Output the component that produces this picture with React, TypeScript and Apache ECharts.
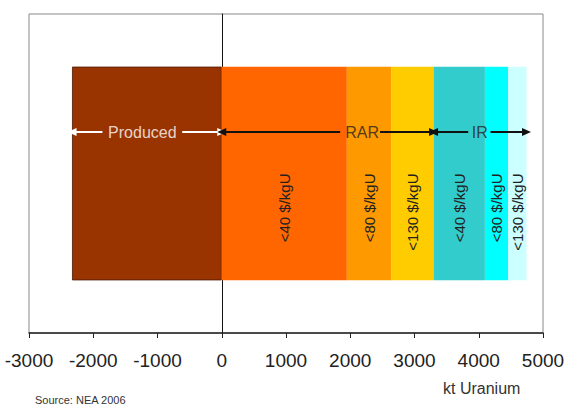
import { useEffect, useRef } from 'react';
import * as echarts from 'echarts';

const FONT = '"Liberation Sans", Arial, Helvetica, sans-serif';

// resource tiers, kt Uranium (NEA 2006)
const category = ['Uranium'];
const producedValue = -2330;
const tierLabels = ['<40 $/kgU', '<80 $/kgU', '<130 $/kgU', '<40 $/kgU', '<80 $/kgU', '<130 $/kgU'];
const tierValues = [1947, 696, 654, 799, 362, 285];
const tierColors = ['#ff6600', '#ff9900', '#ffcc00', '#33cccc', '#00ffff', '#ccffff'];

// range arrows: [start, gapStart, gapEnd, end, labelAt]
const producedArrow = [-2330, -1857, -615, 0, -1236];
const rarArrow = [0, 1843, 2464, 3297, 2186];
const irArrow = [3297, 3836, 4183, 4743, 4017];
const arrowLevel = 63;

const xMin = -3000;
const xMax = 5000;
const xStep = 1000;

const arrowLines = (a: number[]) => [
    [
        { coord: [a[0], arrowLevel], symbol: 'triangle' },
        { coord: [a[1], arrowLevel], symbol: 'none' }
    ],
    [
        { coord: [a[2], arrowLevel], symbol: 'none' },
        { coord: [a[3], arrowLevel], symbol: 'triangle' }
    ]
];

const App = () => {
    const chartRef = useRef<HTMLDivElement | null>(null);

    useEffect(() => {
        document.body.style.margin = '0';
        if (!chartRef.current) return;
        const myChart = echarts.init(chartRef.current, undefined, { renderer: 'svg' });

        const tierSeries = tierValues.map((v, i) => ({
            type: 'bar',
            stack: 'total',
            barWidth: '67%',
            data: [v],
            itemStyle: { color: tierColors[i] },
            label: {
                show: true,
                position: 'inside',
                rotate: 90,
                align: 'right',
                verticalAlign: 'middle',
                formatter: tierLabels[i],
                color: '#222',
                fontSize: 15,
                fontFamily: FONT
            },
            silent: true
        }));

        const option = {
            animation: false,
            grid: {
                left: 29,
                right: 27,
                top: 14,
                bottom: 75,
                show: true,
                borderColor: '#888',
                borderWidth: 1,
                outerBoundsMode: 'none'
            },
            title: [
                {
                    text: 'kt Uranium',
                    left: 443,
                    top: 380,
                    padding: 0,
                    textStyle: { fontSize: 16, fontWeight: 'normal', color: '#333', fontFamily: FONT }
                },
                {
                    text: 'Source: NEA 2006',
                    left: 35,
                    top: 394,
                    padding: 0,
                    textStyle: { fontSize: 11, fontWeight: 'normal', color: '#333', fontFamily: FONT }
                }
            ],
            xAxis: {
                type: 'value',
                min: xMin,
                max: xMax,
                interval: xStep,
                splitLine: { show: false },
                axisLine: { show: true, onZero: false, lineStyle: { color: '#222', width: 1.5 } },
                axisTick: { show: true, length: 5, lineStyle: { color: '#222' } },
                axisLabel: {
                    margin: 18,
                    fontSize: 19,
                    color: '#222',
                    fontFamily: FONT,
                    formatter: (v: number) => String(v)
                }
            },
            yAxis: [
                {
                    type: 'category',
                    data: category,
                    axisLine: { show: true, onZero: true, lineStyle: { color: '#111', width: 1 } },
                    axisTick: { show: false },
                    axisLabel: { show: false }
                },
                {
                    type: 'value',
                    min: 0,
                    max: 100,
                    show: false
                }
            ],
            series: [
                {
                    type: 'bar',
                    stack: 'total',
                    barWidth: '67%',
                    data: [producedValue],
                    itemStyle: { color: '#993300', borderColor: '#4a1800', borderWidth: 0.8 },
                    silent: true
                },
                ...tierSeries,
                {
                    type: 'scatter',
                    yAxisIndex: 1,
                    symbolSize: 0,
                    silent: true,
                    data: [[producedArrow[4], arrowLevel, 'Produced']],
                    label: {
                        show: true,
                        position: 'inside',
                        formatter: (p: any) => p.data[2],
                        color: '#fff',
                        fontSize: 16,
                        fontFamily: FONT
                    },
                    markLine: {
                        silent: true,
                        symbolSize: [8, 9],
                        label: { show: false },
                        lineStyle: { color: '#fff', width: 2, type: 'solid' },
                        data: arrowLines(producedArrow)
                    }
                },
                {
                    type: 'scatter',
                    yAxisIndex: 1,
                    symbolSize: 0,
                    silent: true,
                    data: [
                        [rarArrow[4], arrowLevel, 'RAR'],
                        [irArrow[4], arrowLevel, 'IR']
                    ],
                    label: {
                        show: true,
                        position: 'inside',
                        formatter: (p: any) => p.data[2],
                        color: '#222',
                        fontSize: 16,
                        fontFamily: FONT
                    },
                    markLine: {
                        silent: true,
                        symbolSize: [8, 9],
                        label: { show: false },
                        lineStyle: { color: '#111', width: 2, type: 'solid' },
                        data: [...arrowLines(rarArrow), ...arrowLines(irArrow)]
                    }
                }
            ]
        };

        myChart.setOption(option as any);
        return () => myChart.dispose();
    }, []);

    return <div ref={chartRef} style={{ width: 570, height: 408 }} />;
};

export default App;
